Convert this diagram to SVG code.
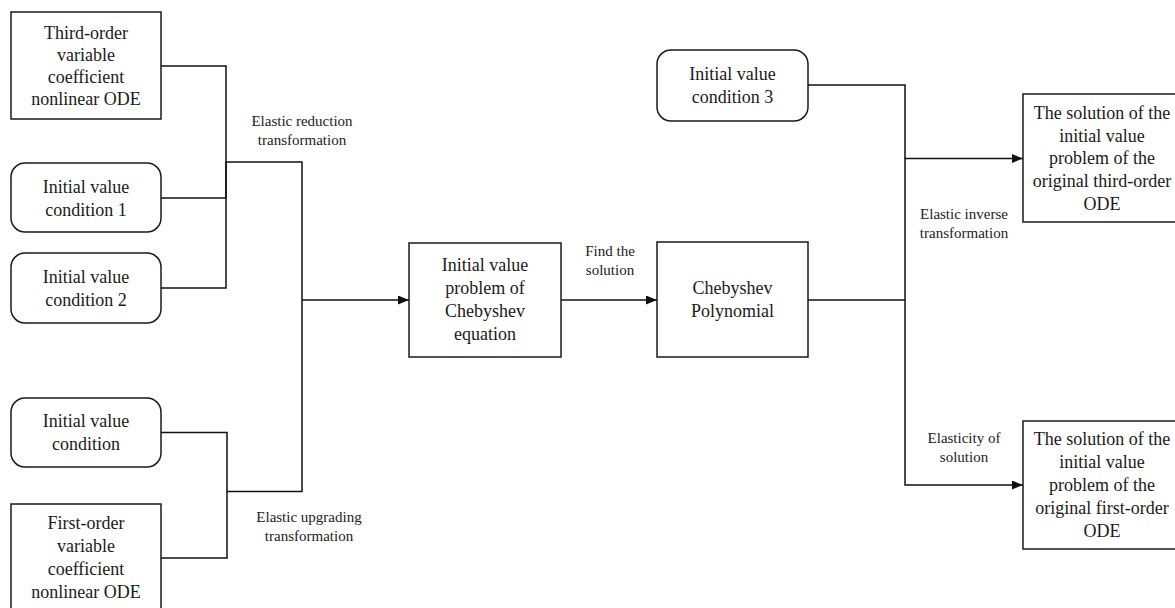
<svg xmlns="http://www.w3.org/2000/svg" width="1175" height="608" viewBox="0 0 1175 608">
<style>
.box{fill:#fff;stroke:#1a1a1a;stroke-width:1.5}
.t{font-family:"Liberation Serif","Times New Roman",serif;font-size:18px;fill:#1a1a1a;text-anchor:middle}
.l{font-family:"Liberation Serif","Times New Roman",serif;font-size:15px;fill:#222;text-anchor:middle}
.c{fill:none;stroke:#111;stroke-width:1.5}
</style>
<defs>
<marker id="arr" markerUnits="userSpaceOnUse" markerWidth="12" markerHeight="10" refX="11" refY="4.5" orient="auto">
<path d="M0,0 L11,4.5 L0,9 Z" fill="#111"/>
</marker>
</defs>
<rect width="1175" height="608" fill="#fff"/>
<g id="connectors">
<path class="c" d="M161,66 H226 V162 H302 V300"/>
<path class="c" d="M161,198 H226 V162"/>
<path class="c" d="M161,288 H226 V162"/>
<path class="c" d="M161,432.5 H227 V491.5 H302 V300"/>
<path class="c" d="M161,558 H227 V491.5"/>
<path class="c" d="M302,300 H409" marker-end="url(#arr)"/>
<path class="c" d="M561,300 H657" marker-end="url(#arr)"/>
<path class="c" d="M808,85 H905 V158.5"/>
<path class="c" d="M808,300 H905 V158.5 H1023" marker-end="url(#arr)"/>
<path class="c" d="M905,300 V485 H1023" marker-end="url(#arr)"/>
</g>
<g id="lbl-reduction"><text class="l" x="302" y="126">Elastic reduction</text><text class="l" x="302" y="145">transformation</text></g>
<g id="lbl-upgrading"><text class="l" x="309" y="522">Elastic upgrading</text><text class="l" x="309" y="541">transformation</text></g>
<g id="lbl-find"><text class="l" x="610" y="256">Find the</text><text class="l" x="610" y="274.5">solution</text></g>
<g id="lbl-inverse"><text class="l" x="964" y="219">Elastic inverse</text><text class="l" x="964" y="237.5">transformation</text></g>
<g id="lbl-elasticity"><text class="l" x="964" y="443">Elasticity of</text><text class="l" x="964" y="461.5">solution</text></g>
<g id="n-third">
<rect class="box" x="11" y="12" width="150" height="107"/>
<text class="t" x="86" y="39">Third-order</text>
<text class="t" x="86" y="61">variable</text>
<text class="t" x="86" y="83">coefficient</text>
<text class="t" x="86" y="105">nonlinear ODE</text>
</g>
<g id="n-ivc1">
<rect class="box" x="11" y="163" width="150" height="69" rx="14"/>
<text class="t" x="86" y="193">Initial value</text>
<text class="t" x="86" y="216">condition 1</text>
</g>
<g id="n-ivc2">
<rect class="box" x="11" y="253" width="150" height="70" rx="14"/>
<text class="t" x="86" y="283">Initial value</text>
<text class="t" x="86" y="306">condition 2</text>
</g>
<g id="n-ivc">
<rect class="box" x="11" y="398" width="150" height="69" rx="14"/>
<text class="t" x="86" y="427">Initial value</text>
<text class="t" x="86" y="450">condition</text>
</g>
<g id="n-first">
<rect class="box" x="11" y="504" width="150" height="110"/>
<text class="t" x="86" y="529">First-order</text>
<text class="t" x="86" y="552">variable</text>
<text class="t" x="86" y="575">coefficient</text>
<text class="t" x="86" y="598">nonlinear ODE</text>
</g>
<g id="n-ivp">
<rect class="box" x="409" y="243" width="152" height="114"/>
<text class="t" x="485" y="271">Initial value</text>
<text class="t" x="485" y="294">problem of</text>
<text class="t" x="485" y="317">Chebyshev</text>
<text class="t" x="485" y="340">equation</text>
</g>
<g id="n-cheb">
<rect class="box" x="657" y="242" width="151" height="115"/>
<text class="t" x="732.5" y="294">Chebyshev</text>
<text class="t" x="732.5" y="317">Polynomial</text>
</g>
<g id="n-ivc3">
<rect class="box" x="657" y="50" width="151" height="71" rx="14"/>
<text class="t" x="732.5" y="80">Initial value</text>
<text class="t" x="732.5" y="103">condition 3</text>
</g>
<g id="n-sol3">
<rect class="box" x="1023" y="94" width="160" height="128"/>
<text class="t" x="1102" y="118.5">The solution of the</text>
<text class="t" x="1102" y="141.5">initial value</text>
<text class="t" x="1102" y="164">problem of the</text>
<text class="t" x="1102" y="187">original third-order</text>
<text class="t" x="1102" y="210">ODE</text>
</g>
<g id="n-sol1">
<rect class="box" x="1023" y="421" width="160" height="128"/>
<text class="t" x="1102" y="445">The solution of the</text>
<text class="t" x="1102" y="468">initial value</text>
<text class="t" x="1102" y="491">problem of the</text>
<text class="t" x="1102" y="514">original first-order</text>
<text class="t" x="1102" y="537">ODE</text>
</g>
</svg>
